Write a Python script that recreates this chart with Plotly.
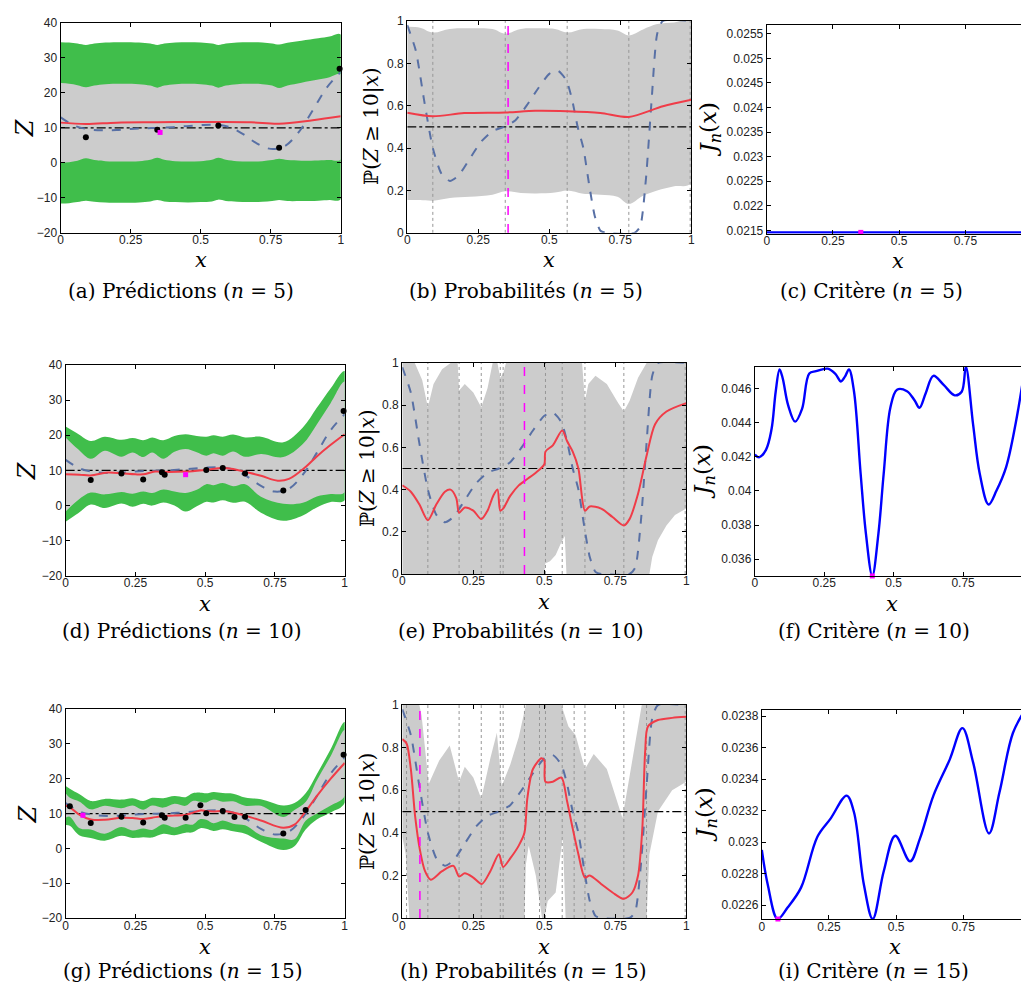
import plotly.graph_objects as go

# page body adds an 8px offset; the figure covers the remaining area of the 1029x997 window
OFF = 8
W, H = 1029 - OFF, 997 - OFF

# ---------------- observations ----------------
obs5_x = [0.09, 0.345, 0.563, 0.78, 0.996]
obs5_z = [7.3, 9.5, 10.7, 4.3, 26.9]
obs10_x = [0.09, 0.2, 0.278, 0.345, 0.355, 0.504, 0.563, 0.643, 0.78, 0.996]
obs10_z = [7.3, 9.1, 7.4, 9.5, 8.8, 10.1, 10.7, 9.1, 4.3, 26.9]
obs15_x = [0.015, 0.09, 0.2, 0.278, 0.345, 0.355, 0.43, 0.483, 0.504, 0.563, 0.605, 0.643, 0.78, 0.86, 0.996]
obs15_z = [12.1, 7.3, 9.1, 7.4, 9.5, 8.8, 8.8, 12.4, 10.1, 10.7, 9.0, 9.1, 4.3, 11.0, 26.9]

next_x = [0.355, 0.43, 0.062]
next_z = [8.7, 8.8, 9.5]
jmin_x = [0.355, 0.423, 0.06]
jmin_y = [0.02146, 0.03502, 0.022512]

z_threshold = 10
p_threshold = 0.5

# ---------------- true function & true probability ----------------
true_x = [0, 0.05, 0.1, 0.15, 0.2, 0.25, 0.3, 0.35, 0.4, 0.45, 0.5, 0.55, 0.6, 0.65, 0.7, 0.75, 0.8, 0.85, 0.9, 0.95, 1.0]
true_z = [13.0, 10.6, 9.6, 9.3, 9.4, 9.7, 9.9, 10.0, 10.2, 10.5, 10.8, 10.9, 10.3, 8.3, 5.6, 4.0, 4.8, 8.8, 15.0, 21.5, 26.0]

tp_x = [0, 0.03, 0.06, 0.09, 0.12, 0.15, 0.18, 0.22, 0.26, 0.3, 0.34, 0.38, 0.42, 0.46, 0.5, 0.53, 0.56, 0.58, 0.6,
        0.62, 0.64, 0.66, 0.68, 0.7, 0.8, 0.82, 0.84, 0.86, 0.88, 0.9, 1.0]
tp_y = [0.98, 0.86, 0.62, 0.40, 0.28, 0.245, 0.27, 0.35, 0.43, 0.48, 0.50, 0.53, 0.60, 0.68, 0.75, 0.765, 0.72, 0.63,
        0.50, 0.40, 0.23, 0.08, 0.01, 0.0, 0.0, 0.03, 0.25, 0.62, 0.94, 1.0, 1.0]

# ---------------- panel (a) n=5 ----------------
a_x = [0, 0.03, 0.06, 0.09, 0.12, 0.16, 0.22, 0.28, 0.32, 0.345, 0.37, 0.41, 0.455, 0.5, 0.54, 0.563, 0.59, 0.63,
       0.67, 0.72, 0.755, 0.78, 0.81, 0.86, 0.92, 0.96, 1.0]
a_green_up = [34.5, 34.4, 34.1, 33.7, 34.1, 34.4, 34.5, 34.4, 34.1, 33.7, 34.1, 34.4, 34.5, 34.4, 34.1, 33.7, 34.1,
              34.4, 34.5, 34.4, 34.1, 33.8, 34.3, 34.9, 35.6, 36.1, 36.7]
a_grey_up = [22.8, 22.6, 22.2, 21.6, 22.1, 22.5, 22.6, 22.5, 22.1, 21.5, 22.1, 22.5, 22.6, 22.5, 22.1, 21.5, 22.1,
             22.5, 22.6, 22.5, 22.1, 21.4, 22.1, 22.9, 23.8, 24.5, 25.3]
a_grey_lo = [0.0, 0.2, 0.6, 1.3, 0.8, 0.5, 0.4, 0.5, 0.9, 1.5, 0.9, 0.5, 0.4, 0.5, 0.9, 1.5, 0.9, 0.5, 0.4, 0.5,
             0.8, 1.2, 0.8, 0.6, 0.7, 0.8, 1.0]
a_green_lo = [-11.6, -11.5, -11.2, -10.8, -11.1, -11.3, -11.4, -11.3, -11.0, -10.6, -11.0, -11.2, -11.3, -11.2,
              -11.0, -10.5, -10.9, -11.1, -11.2, -11.1, -10.9, -10.6, -10.9, -10.9, -10.8, -10.6, -10.4]
a_red_x = [0, 0.09, 0.2, 0.345, 0.45, 0.563, 0.68, 0.78, 0.9, 1.0]
a_red = [11.5, 11.1, 11.5, 11.6, 11.7, 11.7, 11.6, 11.2, 12.2, 13.3]

# ---------------- panel (b) n=5 ----------------
b_x = [0, 0.045, 0.09, 0.15, 0.22, 0.3, 0.345, 0.4, 0.455, 0.52, 0.563, 0.62, 0.68, 0.74, 0.78, 0.83, 0.88, 0.94, 1.0]
b_up = [0.972, 0.968, 0.945, 0.962, 0.965, 0.962, 0.94, 0.962, 0.965, 0.962, 0.945, 0.962, 0.962, 0.955, 0.932,
        0.96, 0.985, 0.993, 0.997]
b_lo = [0.155, 0.155, 0.152, 0.165, 0.17, 0.18, 0.196, 0.188, 0.186, 0.19, 0.2, 0.185, 0.18, 0.17, 0.136, 0.175,
        0.2, 0.22, 0.235]
b_red_x = [0, 0.09, 0.2, 0.345, 0.45, 0.563, 0.68, 0.78, 0.9, 1.0]
b_red = [0.567, 0.55, 0.565, 0.568, 0.576, 0.574, 0.566, 0.547, 0.597, 0.628]

# ---------------- panel (c) n=5 ----------------
c_x = [0, 0.25, 0.5, 0.75, 1.0]
c_j = [0.02146, 0.02146, 0.02146, 0.02146, 0.02146]

# ---------------- panel (d) n=10 ----------------
d_x = [0, 0.045, 0.09, 0.14, 0.2, 0.24, 0.278, 0.31, 0.35, 0.39, 0.43, 0.47, 0.504, 0.53, 0.563, 0.6, 0.643, 0.7,
       0.78, 0.85, 0.9, 0.95, 1.0]
d_green_up = [22.5, 20.4, 18.4, 19.6, 18.7, 19.2, 18.6, 19.4, 18.6, 19.8, 20.3, 19.8, 19.6, 20.0, 19.6, 20.2, 19.4,
              19.6, 18.0, 22.2, 27.8, 33.4, 38.3]
d_grey_up = [19.4, 16.0, 13.3, 15.6, 13.9, 15.1, 13.8, 15.1, 13.3, 15.3, 16.1, 15.2, 14.2, 14.9, 14.2, 15.4, 13.9,
             14.7, 13.8, 17.5, 23.1, 29.2, 35.3]
d_grey_lo = [-1.7, 1.6, 3.7, 3.2, 3.9, 3.4, 4.0, 3.6, 4.6, 4.0, 3.6, 4.5, 6.1, 5.8, 6.4, 5.5, 6.1, 2.5, 0.5, 0.8,
             2.6, 3.3, 3.8]
d_green_lo = [-4.6, -2.2, 0.3, -0.7, 0.6, -0.3, 0.5, 0.0, 0.9, 0.0, -1.7, -0.2, 1.1, 0.9, 1.5, 0.8, 1.1, -2.0,
              -4.3, -2.8, -0.5, 1.0, 1.5]
d_red_x = [0, 0.05, 0.09, 0.15, 0.2, 0.25, 0.278, 0.32, 0.35, 0.43, 0.504, 0.563, 0.6, 0.643, 0.7, 0.76, 0.8, 0.86,
           0.9, 0.95, 1.0]
d_red = [8.9, 8.8, 8.6, 9.4, 9.2, 8.9, 8.9, 9.7, 9.6, 9.7, 10.2, 10.7, 10.4, 9.6, 8.5, 7.1, 7.6, 11.0, 14.0, 17.3, 20.3]

# ---------------- panel (e) n=10 ----------------
e_up_x = [0, 0.044, 0.07, 0.09, 0.11, 0.14, 0.17, 0.195, 0.2, 0.22, 0.25, 0.278, 0.3, 0.318, 0.335, 0.345, 0.355,
          0.365, 0.5, 0.633, 0.643, 0.655, 0.68, 0.72, 0.76, 0.78, 0.8, 0.83, 0.86, 1.0]
e_up = [1.0, 1.0, 0.92, 0.79, 0.9, 0.97, 1.0, 1.0, 0.87, 0.9, 0.86, 0.79, 0.88, 1.0, 1.0, 0.93, 0.95, 1.0, 1.0, 1.0,
        0.82, 0.9, 0.94, 0.9, 0.81, 0.77, 0.82, 0.93, 1.0, 1.0]
e_lo_x = [0, 0.5, 0.503, 0.52, 0.54, 0.56, 0.572, 0.578, 0.87, 0.88, 0.9, 0.93, 0.96, 1.0]
e_lo = [0, 0, 0.05, 0.06, 0.09, 0.15, 0.18, 0, 0, 0.08, 0.16, 0.23, 0.28, 0.31]
e_red_x = [0, 0.03, 0.06, 0.09, 0.12, 0.15, 0.17, 0.19, 0.2, 0.22, 0.25, 0.278, 0.3, 0.32, 0.335, 0.345, 0.355, 0.38,
           0.41, 0.44, 0.47, 0.5, 0.504, 0.53, 0.563, 0.58, 0.6, 0.62, 0.643, 0.66, 0.7, 0.74, 0.78, 0.8, 0.83, 0.86,
           0.89, 0.93, 1.0]
e_red = [0.42, 0.39, 0.33, 0.255, 0.33, 0.39, 0.40, 0.36, 0.29, 0.315, 0.30, 0.26, 0.3, 0.37, 0.40, 0.30, 0.31, 0.37,
         0.42, 0.45, 0.48, 0.52, 0.58, 0.61, 0.68, 0.63, 0.58, 0.50, 0.30, 0.32, 0.31, 0.27, 0.23, 0.26, 0.38, 0.56,
         0.71, 0.77, 0.81]

# ---------------- panel (f) n=10 ----------------
f_x = [0, 0.015, 0.04, 0.06, 0.075, 0.089, 0.1, 0.12, 0.145, 0.17, 0.196, 0.22, 0.262, 0.29, 0.31, 0.325, 0.339,
       0.357, 0.381, 0.4, 0.423, 0.445, 0.464, 0.488, 0.512, 0.548, 0.575, 0.593, 0.615, 0.643, 0.68, 0.72, 0.745,
       0.76, 0.786, 0.81, 0.842, 0.87, 0.905, 0.94, 0.973]
f_j = [0.04212, 0.04196, 0.0424, 0.0436, 0.0458, 0.04711, 0.0466, 0.0450, 0.04405, 0.0448, 0.04687, 0.04700,
       0.04715, 0.04685, 0.04640, 0.04670, 0.04711, 0.04583, 0.04100, 0.0375, 0.03502, 0.0375, 0.04100, 0.04486,
       0.04592, 0.04583, 0.04530, 0.04486, 0.04570, 0.04673, 0.0462, 0.04559, 0.0458, 0.04725, 0.04389, 0.0410,
       0.03920, 0.0400, 0.04139, 0.0440, 0.04725]

# ---------------- panel (g) n=15 ----------------
g_x = [0, 0.015, 0.05, 0.09, 0.14, 0.2, 0.24, 0.278, 0.31, 0.35, 0.39, 0.43, 0.455, 0.483, 0.504, 0.53, 0.563, 0.6,
       0.643, 0.7, 0.78, 0.82, 0.86, 0.9, 0.95, 1.0]
g_red = [12.3, 11.8, 9.6, 8.3, 8.2, 8.8, 8.7, 8.4, 8.8, 9.3, 9.4, 9.6, 10.2, 10.9, 10.7, 10.6, 10.7, 10.3, 9.4, 8.0,
         5.9, 6.8, 10.6, 15.0, 20.0, 24.5]
g_green_up = [17.9, 17.1, 15.5, 13.6, 14.2, 14.0, 14.4, 13.6, 14.5, 14.4, 15.0, 14.7, 15.8, 16.0, 15.8, 16.2, 15.9,
              15.7, 14.6, 14.1, 12.3, 13.0, 15.8, 21.3, 28.5, 36.3]
g_grey_up = [15.8, 14.5, 13.4, 11.2, 12.2, 11.5, 12.3, 11.1, 12.3, 11.7, 12.8, 12.2, 13.6, 13.4, 13.2, 14.0, 13.4,
             13.5, 12.2, 12.2, 9.0, 11.0, 13.3, 19.5, 26.5, 34.0]
g_grey_lo = [8.8, 9.1, 5.8, 5.4, 4.2, 6.1, 5.1, 5.7, 5.3, 6.9, 6.0, 7.0, 6.8, 8.4, 8.2, 7.2, 8.0, 7.1, 6.6, 3.8,
             2.8, 2.6, 7.9, 10.0, 12.3, 15.0]
g_green_lo = [6.7, 6.5, 3.7, 3.0, 2.2, 3.6, 3.0, 3.2, 3.1, 4.2, 3.8, 4.5, 4.6, 5.8, 5.6, 5.0, 5.5, 4.9, 4.2, 1.9,
              -0.5, 0.6, 5.4, 8.3, 10.3, 13.0]

# ---------------- panel (h) n=15 ----------------
h_up_x = [0, 0.06, 0.068, 0.093, 0.13, 0.167, 0.2, 0.22, 0.25, 0.278, 0.31, 0.333, 0.35, 0.38, 0.41, 0.435, 0.56,
          0.585, 0.61, 0.643, 0.674, 0.72, 0.775, 0.81, 0.843, 1.0]
h_up = [1.0, 1.0, 0.95, 0.63, 0.74, 0.81, 0.64, 0.71, 0.66, 0.56, 0.75, 0.87, 0.62, 0.72, 0.85, 1.0, 1.0, 0.9, 0.86,
        0.7, 0.77, 0.7, 0.47, 0.75, 1.0, 1.0]
h_lo_x = [0, 0.012, 0.025, 0.43, 0.435, 0.445, 0.47, 0.492, 0.5, 0.512, 0.54, 0.565, 0.575, 0.86, 0.87, 0.9, 0.95, 1.0]
h_lo = [0.38, 0.3, 0, 0, 0.25, 0.34, 0.2, 0.0, 0.0, 0.08, 0.12, 0.38, 0.0, 0.0, 0.3, 0.5, 0.6, 0.64]
h_red_x = [0, 0.015, 0.03, 0.045, 0.062, 0.08, 0.1, 0.14, 0.18, 0.2, 0.22, 0.25, 0.28, 0.31, 0.34, 0.355, 0.38, 0.41,
           0.43, 0.44, 0.46, 0.49, 0.5, 0.504, 0.53, 0.56, 0.58, 0.6, 0.62, 0.643, 0.66, 0.7, 0.74, 0.78, 0.81, 0.83,
           0.845, 0.855, 0.865, 0.9, 0.95, 1.0]
h_red = [0.84, 0.82, 0.7, 0.48, 0.32, 0.22, 0.18, 0.22, 0.245, 0.195, 0.21, 0.19, 0.16, 0.22, 0.30, 0.24, 0.28, 0.34,
         0.40, 0.56, 0.70, 0.75, 0.74, 0.64, 0.64, 0.66, 0.55, 0.42, 0.30, 0.19, 0.20, 0.16, 0.12, 0.09, 0.12, 0.2,
         0.42, 0.78, 0.9, 0.93, 0.94, 0.945]

# ---------------- panel (i) n=15 ----------------
i_x = [0, 0.022, 0.059, 0.096, 0.146, 0.207, 0.256, 0.316, 0.343, 0.38, 0.413, 0.454, 0.497, 0.552, 0.589, 0.639,
       0.7, 0.747, 0.787, 0.846, 0.885, 0.935, 0.98]
i_j = [0.022951, 0.022731, 0.022512, 0.022585, 0.022711, 0.023034, 0.023149, 0.023295, 0.023191, 0.022731,
       0.022512, 0.022815, 0.023040, 0.022878, 0.023024, 0.023295, 0.023525, 0.023723, 0.023504, 0.023055,
       0.023316, 0.023692, 0.023838]

# ---------------- tick labels ----------------
x_ticks = [0, 0.25, 0.5, 0.75, 1]
x_ticktext = ["0", "0.25", "0.5", "0.75", "1"]
z_ticks = [-20, -10, 0, 10, 20, 30, 40]
z_ticktext = ["\u221220", "\u221210", "0", "10", "20", "30", "40"]
p_ticks = [0, 0.2, 0.4, 0.6, 0.8, 1]
p_ticktext = ["0", "0.2", "0.4", "0.6", "0.8", "1"]
c_ticks = [0.0215, 0.022, 0.0225, 0.023, 0.0235, 0.024, 0.0245, 0.025, 0.0255]
c_ticktext = ["0.0215", "0.022", "0.0225", "0.023", "0.0235", "0.024", "0.0245", "0.025", "0.0255"]
f_ticks = [0.036, 0.038, 0.04, 0.042, 0.044, 0.046]
f_ticktext = ["0.036", "0.038", "0.04", "0.042", "0.044", "0.046"]
i_ticks = [0.0226, 0.0228, 0.023, 0.0232, 0.0234, 0.0236, 0.0238]
i_ticktext = ["0.0226", "0.0228", "0.023", "0.0232", "0.0234", "0.0236", "0.0238"]

captions = ["(a) Prédictions (<i>n</i> = 5)", "(b) Probabilités (<i>n</i> = 5)", "(c) Critère (<i>n</i> = 5)",
            "(d) Prédictions (<i>n</i> = 10)", "(e) Probabilités (<i>n</i> = 10)", "(f) Critère (<i>n</i> = 10)",
            "(g) Prédictions (<i>n</i> = 15)", "(h) Probabilités (<i>n</i> = 15)", "(i) Critère (<i>n</i> = 15)"]

# ---------------- styles ----------------
GREEN = "rgb(64,190,75)"
GREY = "rgb(204,204,204)"
RED = "rgb(240,60,72)"
BLUE_D = "rgb(88,112,165)"
BLUE = "rgb(0,0,255)"
MAG = "rgb(255,0,255)"
SERIF = "DejaVu Serif"
SANS = "Liberation Sans"

# pixel boxes in the window: (left, right, top, bottom)
boxes = [(58, 340, 16, 229), (407, 693, 14, 229), (769, 1029, 18, 230),
         (63, 344, 363, 577), (402, 688, 361, 575), (757, 1029, 365, 577),
         (63, 344, 712, 924), (402, 688, 708, 924), (764, 1029, 713, 925)]


def fx(px):
    return (px - OFF) / W


def fy(py):
    return 1 - (py - OFF) / H


fig = go.Figure()


def ax(k):
    return ("x" if k == 1 else f"x{k}"), ("y" if k == 1 else f"y{k}")


def band(k, xs, up, lo, color, xs_lo=None, shape="linear"):
    xa, ya = ax(k)
    xl = xs if xs_lo is None else xs_lo
    fig.add_trace(go.Scatter(x=list(xs) + list(xl)[::-1], y=list(up) + list(lo)[::-1], fill="toself",
                             fillcolor=color, line=dict(width=0, shape=shape), mode="lines",
                             xaxis=xa, yaxis=ya, showlegend=False, hoverinfo="skip"))


def line(k, xs, ys, color, width=2, dash="solid", shape="linear", smoothing=1.0):
    xa, ya = ax(k)
    ln = dict(color=color, width=width, dash=dash, shape=shape)
    if shape == "spline":
        ln["smoothing"] = smoothing
    fig.add_trace(go.Scatter(x=xs, y=ys, mode="lines", line=ln, xaxis=xa, yaxis=ya, showlegend=False))


def points(k, xs, ys, color, symbol="circle", size=6):
    xa, ya = ax(k)
    fig.add_trace(go.Scatter(x=xs, y=ys, mode="markers", marker=dict(color=color, symbol=symbol, size=size,
                             line=dict(width=0)), xaxis=xa, yaxis=ya, showlegend=False, cliponaxis=False))


def vlines(k, xs, color, dash, width=1):
    xa, ya = ax(k)
    vx, vy = [], []
    for v in xs:
        vx += [v, v, None]
        vy += [0, 1, None]
    fig.add_trace(go.Scatter(x=vx, y=vy, mode="lines", line=dict(color=color, width=width, dash=dash),
                             xaxis=xa, yaxis=ya, showlegend=False))


def z_panel(k, bx, gu, yu, yl, gl, rx, ry, ox, oz, nx, nz):
    band(k, bx, gu, gl, GREEN, shape="spline")
    band(k, bx, yu, yl, GREY, shape="spline")
    line(k, [0, 1], [z_threshold, z_threshold], "black", 1.2, "dashdot")
    line(k, true_x, true_z, BLUE_D, 2, "dash", "spline")
    line(k, rx, ry, RED, 2, "solid", "spline")
    points(k, ox, oz, "black", "circle", 6)
    points(k, [nx], [nz], MAG, "square", 5)


def p_panel(k, ux, up, lx, lo, rx, ry, ox, nx, shape="linear"):
    band(k, ux, up, lo, GREY, xs_lo=lx, shape=shape)
    vlines(k, ox, "rgb(150,150,150)", "dot", 1)
    line(k, [0, 1], [p_threshold, p_threshold], "black", 1.2, "dashdot")
    line(k, tp_x, tp_y, BLUE_D, 2, "dash", "spline", 0.6)
    line(k, rx, ry, RED, 2, "solid", "spline", 0.8)
    vlines(k, [nx], MAG, "dash", 1.5)


def j_panel(k, xs, js, mx, my):
    line(k, xs, js, BLUE, 2.4, "solid", "spline")
    points(k, [mx], [my], MAG, "square", 5)


z_panel(1, a_x, a_green_up, a_grey_up, a_grey_lo, a_green_lo, a_red_x, a_red, obs5_x, obs5_z, next_x[0], next_z[0])
p_panel(2, b_x, b_up, b_x, b_lo, b_red_x, b_red, obs5_x, next_x[0], "spline")
j_panel(3, c_x, c_j, jmin_x[0], jmin_y[0])
z_panel(4, d_x, d_green_up, d_grey_up, d_grey_lo, d_green_lo, d_red_x, d_red, obs10_x, obs10_z, next_x[1], next_z[1])
p_panel(5, e_up_x, e_up, e_lo_x, e_lo, e_red_x, e_red, obs10_x, next_x[1])
j_panel(6, f_x, f_j, jmin_x[1], jmin_y[1])
z_panel(7, g_x, g_green_up, g_grey_up, g_grey_lo, g_green_lo, g_x, g_red, obs15_x, obs15_z, next_x[2], next_z[2])
p_panel(8, h_up_x, h_up, h_lo_x, h_lo, h_red_x, h_red, obs15_x, next_x[2])
j_panel(9, i_x, i_j, jmin_x[2], jmin_y[2])

# ---------------- axes ----------------
yspec = {1: (z_ticks, z_ticktext, [-20, 40]), 2: (p_ticks, p_ticktext, [0, 1]),
         3: (c_ticks, c_ticktext, [0.02143, 0.02568]),
         4: (z_ticks, z_ticktext, [-20, 40]), 5: (p_ticks, p_ticktext, [0, 1]),
         6: (f_ticks, f_ticktext, [0.03502, 0.04725]),
         7: (z_ticks, z_ticktext, [-20, 40]), 8: (p_ticks, p_ticktext, [0, 1]),
         9: (i_ticks, i_ticktext, [0.022512, 0.023838])}
xrange_ = {3: [0, 0.975], 6: [0, 0.973], 9: [0, 0.98]}

layout = dict(width=W, height=H, margin=dict(l=0, r=0, t=0, b=0), plot_bgcolor="white", paper_bgcolor="white",
              showlegend=False)
common = dict(showline=True, linecolor="black", linewidth=1.2, ticks="inside", ticklen=4, tickcolor="black",
              showgrid=False, zeroline=False, tickfont=dict(family=SANS, size=12, color="#222"))
for k, (l, r, t, b) in enumerate(boxes, start=1):
    xk = "xaxis" if k == 1 else f"xaxis{k}"
    yk = "yaxis" if k == 1 else f"yaxis{k}"
    xa, ya = ax(k)
    jcol = k in (3, 6, 9)
    layout[xk] = dict(common, domain=[fx(l), min(1.0, fx(r))], anchor=ya, range=xrange_.get(k, [0, 1]),
                      tickvals=x_ticks, ticktext=x_ticktext, mirror="ticks", ticklabelstandoff=-4)
    tv, tt, yr = yspec[k]
    layout[yk] = dict(common, domain=[fy(b), fy(t)], anchor=xa, range=yr, tickvals=tv, ticktext=tt,
                      mirror=(False if jcol else "ticks"))
fig.update_layout(**layout)

# ---------------- text annotations ----------------
ylabels = ["<i>Z</i>", "\u2119(<i>Z</i> \u2265 10|<i>x</i>)", "<i>J<sub>n</sub></i>(<i>x</i>)"] * 3
ylabel_size = [24, 20, 23] * 3
ylabel_pos = [(22, 122), (371, 121), (712, 124), (25, 470), (367, 468), (706, 471), (25, 818), (367, 816), (707, 819)]
xlabel_pos = [(199, 257), (550, 257), (901, 258), (203, 605), (545, 603), (895, 605), (203, 953), (545, 953),
              (898, 953)]
caption_pos = [(179, 288), (527, 288), (874, 288), (180, 633), (522, 633), (877, 633), (181, 978), (524, 978),
               (876, 978)]

ann = []
for k in range(9):
    px, py = ylabel_pos[k]
    ann.append(dict(text=ylabels[k], x=fx(px), y=fy(py), xref="paper", yref="paper", showarrow=False,
                    textangle=-90, font=dict(family=SERIF, size=ylabel_size[k], color="black"), xanchor="center",
                    yanchor="middle"))
    px, py = xlabel_pos[k]
    ann.append(dict(text="<i>x</i>", x=fx(px), y=fy(py), xref="paper", yref="paper", showarrow=False,
                    font=dict(family=SERIF, size=21, color="black"), xanchor="center", yanchor="middle"))
    px, py = caption_pos[k]
    ann.append(dict(text=captions[k], x=fx(px), y=fy(py), xref="paper", yref="paper", showarrow=False,
                    font=dict(family=SERIF, size=20, color="black"), xanchor="center", yanchor="middle"))
fig.update_layout(annotations=ann)

fig.write_html("out.html")
